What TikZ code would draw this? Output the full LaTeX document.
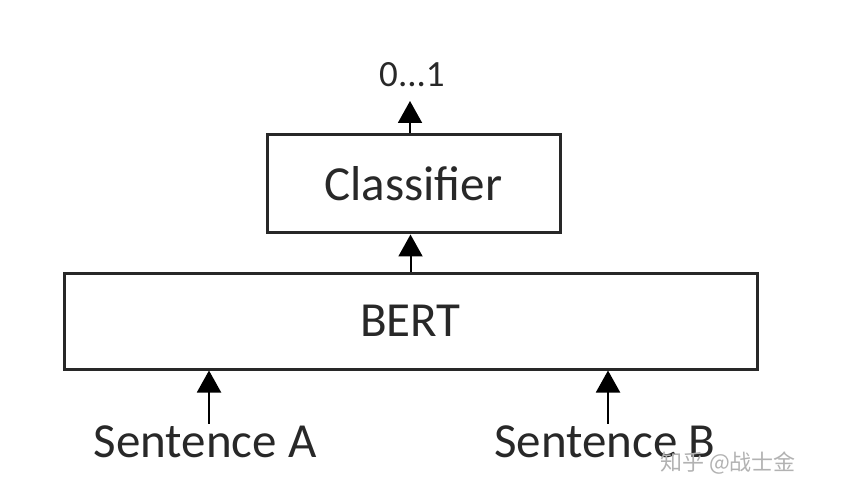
\documentclass[tikz,border=0pt]{standalone}
\usepackage{fontspec}
\setmainfont{Carlito}
\newfontfamily\cjk{Noto Sans CJK SC}
\usepackage{tikz}
\usepackage{xcolor}
\usetikzlibrary{arrows.meta,positioning,calc}
\definecolor{boxGrey}{RGB}{40,40,40}

\begin{document}
\begin{tikzpicture}[x=0.5pt,y=-0.5pt,
    block/.style={draw=boxGrey,line width=1.5pt,inner sep=0pt,font=\fontsize{24.5}{28}\selectfont,text=boxGrey},
    lbl/.style={inner sep=0pt,text=boxGrey,font=\fontsize{24.5}{28}\selectfont},
    arr/.style={draw=black,line width=1pt,-{Triangle[width=12pt,length=11pt]}}]
                    \useasboundingbox (0,0) rectangle (865,491);
                    \node[block,minimum width=146.5pt,minimum height=49pt] (cls) at (413.5,184) {Classifier};
                    \node[block,minimum width=346.5pt,minimum height=48pt] (bert) at (410.5,321) {BERT};
                    \node[lbl,font=\fontsize{18.5}{22}\selectfont] (out) at (412,75) {0...1};
                    \coordinate (outtip) at (410,101);
                    \node[lbl] (sa) at (205,442) {Sentence A};
                    \node[lbl] (sb) at (605,442) {Sentence B};
                    \node[inner sep=0pt,text=gray!60,font=\cjk\fontsize{11}{13}\selectfont] (mark) at (728,463) {知乎 @战士金};

                    \draw[arr] (cls.north -| outtip) -- (outtip);
                    \draw[arr] (bert.north) -- (bert.north |- cls.south);
                    \draw[arr] ([xshift=2pt,yshift=1pt]sa.north) -- ([xshift=2pt]sa.north |- bert.south);
                    \draw[arr] ([xshift=1.5pt,yshift=1pt]sb.north) -- ([xshift=1.5pt]sb.north |- bert.south);
                \end{tikzpicture}
\end{document}
